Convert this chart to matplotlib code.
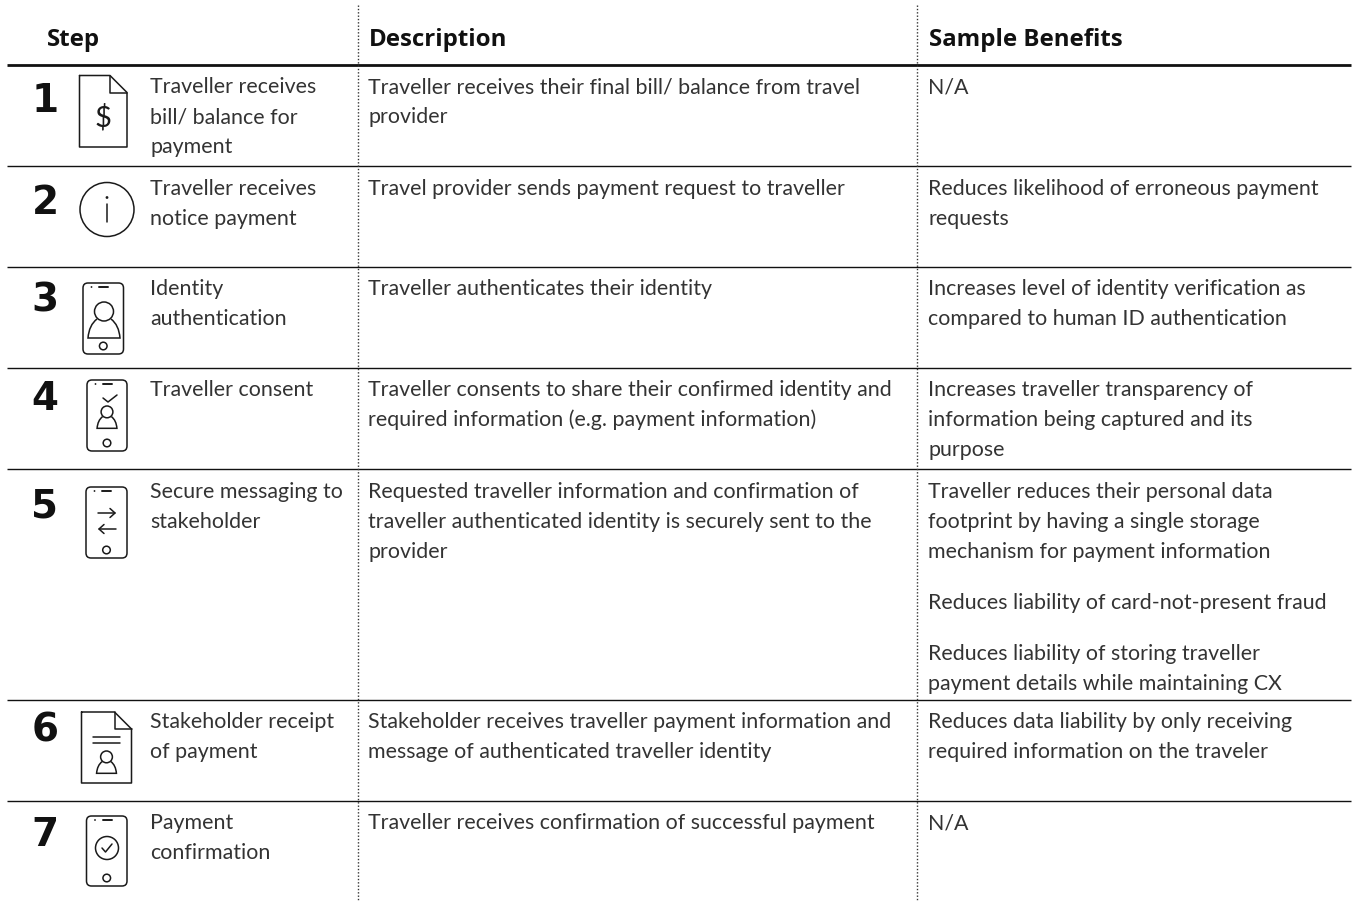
import matplotlib
matplotlib.use("Agg")
import matplotlib.pyplot as plt
from matplotlib.patches import Circle, FancyBboxPatch, PathPatch
from matplotlib.path import Path

W, H = 1356, 902
headers = ["Step", "Description", "Sample Benefits"]
numbers = ["1", "2", "3", "4", "5", "6", "7"]
steps = [["Traveller receives", "bill/ balance for", "payment"],
         ["Traveller receives", "notice payment"],
         ["Identity", "authentication"],
         ["Traveller consent"],
         ["Secure messaging to", "stakeholder"],
         ["Stakeholder receipt", "of payment"],
         ["Payment", "confirmation"]]
descriptions = [["Traveller receives their final bill/ balance from travel", "provider"],
                ["Travel provider sends payment request to traveller"],
                ["Traveller authenticates their identity"],
                ["Traveller consents to share their confirmed identity and", "required information (e.g. payment information)"],
                ["Requested traveller information and confirmation of", "traveller authenticated identity is securely sent to the", "provider"],
                ["Stakeholder receives traveller payment information and", "message of authenticated traveller identity"],
                ["Traveller receives confirmation of successful payment"]]
benefits = [[["N/A"]],
            [["Reduces likelihood of erroneous payment", "requests"]],
            [["Increases level of identity verification as", "compared to human ID authentication"]],
            [["Increases traveller transparency of", "information being captured and its", "purpose"]],
            [["Traveller reduces their personal data", "footprint by having a single storage", "mechanism for payment information"],
             ["Reduces liability of card-not-present fraud"],
             ["Reduces liability of storing traveller", "payment details while maintaining CX"]],
            [["Reduces data liability by only receiving", "required information on the traveler"]],
            [["N/A"]]]
row_lines = [165.5, 266.5, 368, 469, 700, 801]
baselines = [93, 195, 295, 396, 498, 728, 829]
number_baselines = [112, 214, 312, 410, 517, 742, 846]

fig = plt.figure(figsize=(W / 100, H / 100), dpi=100)
ax = fig.add_axes([0, 0, 1, 1])
ax.set_xlim(0, W); ax.set_ylim(H, 0); ax.axis("off")
INK = "#1a1a1a"
TXT = dict(family="Lato", weight="regular", fontsize=15.4, color="#333333", va="baseline", ha="left")
BOLD = dict(family="Open Sans", weight="bold", color="#111111", va="baseline")
LW = 1.1


def line(xs, ys, lw=LW):
    ax.plot(xs, ys, color=INK, lw=lw, solid_capstyle="round", solid_joinstyle="round")


def doc(x0, y0, x1, y1, fold):
    line([x0, x1 - fold, x1, x1, x0, x0], [y0, y0, y0 + fold, y1, y1, y0])
    line([x1 - fold, x1 - fold, x1], [y0, y0 + fold, y0 + fold])


def phone(x0, y0, x1, y1):
    ax.add_patch(FancyBboxPatch((x0 + 5, y0 + 5), x1 - x0 - 10, y1 - y0 - 10,
                                boxstyle="round,pad=5,rounding_size=5", fc="none", ec=INK, lw=LW))
    ax.add_patch(Circle((x0 + 8.5, y0 + 4), 0.9, fc=INK, ec="none"))
    line([x0 + 16, x0 + 25], [y0 + 4, y0 + 4], lw=1.4)
    ax.add_patch(Circle(((x0 + x1) / 2, y1 - 8), 3.8, fc="none", ec=INK, lw=LW))


def person(cx, top, s):
    ax.add_patch(Circle((cx, top + 9.5 * s), 9.5 * s, fc="none", ec=INK, lw=LW))
    verts = [(cx - 7 * s, top + 17 * s), (cx - 15 * s, top + 23 * s), (cx - 16 * s, top + 36 * s),
             (cx + 16 * s, top + 36 * s), (cx + 15 * s, top + 23 * s), (cx + 7 * s, top + 17 * s)]
    codes = [Path.MOVETO, Path.CURVE3, Path.CURVE3, Path.LINETO, Path.CURVE3, Path.CURVE3]
    ax.add_patch(PathPatch(Path(verts, codes), fc="none", ec=INK, lw=LW))


def arrow(x0, x1, y):
    d = 5 if x1 > x0 else -5
    line([x0, x1], [y, y]); line([x1 - d, x1, x1 - d], [y - 4.5, y, y + 4.5])


# rules
ax.plot([7, 1351], [65, 65], color="#111111", lw=2.0, solid_capstyle="butt")
for y in row_lines:
    ax.plot([7, 1351], [y, y], color="#111111", lw=1.0, solid_capstyle="butt")
for x in (358, 917):
    ax.plot([x, x], [5, H], color="#333333", lw=1.0, ls=(0, (1, 1.4)))

# header
for x, t in zip((47, 369, 929), headers):
    ax.text(x, 46, t, fontsize=17.3, **BOLD)

# rows
for i, base in enumerate(baselines):
    ax.text(45, number_baselines[i], numbers[i], family="Liberation Sans Narrow", weight="bold",
            fontsize=28, ha="center", va="baseline", color="#111111")
    for k, t in enumerate(steps[i]):
        ax.text(150, base + 30 * k, t, **TXT)
    for k, t in enumerate(descriptions[i]):
        ax.text(368, base + 30 * k, t, **TXT)
    y = base
    for para in benefits[i]:
        for t in para:
            ax.text(928, y, t, **TXT)
            y += 30
        y += 21

# icons
doc(79.5, 75.5, 127, 147, 17)
ax.text(103, 127, "$", family="Lato", fontsize=21, ha="center", va="baseline", color=INK)
ax.add_patch(Circle((107, 209.5), 27, fc="none", ec=INK, lw=LW))
ax.add_patch(Circle((107, 197.5), 1.4, fc=INK, ec="none"))
line([107, 107], [204, 222])
phone(83, 283, 123.5, 354)
person(104, 302, 1.0)
phone(87, 380, 127, 451)
line([103, 108, 117], [398, 402, 395])
person(107, 406, 0.62)
phone(86, 487, 127, 558)
arrow(98, 115, 513); arrow(116, 99, 529)
doc(81.5, 712, 131.5, 783, 17)
line([93, 120], [737, 737]); line([93, 120], [743, 743])
person(106.5, 751, 0.62)
phone(86.5, 816, 127, 886)
ax.add_patch(Circle((107, 848), 11.5, fc="none", ec=INK, lw=LW))
line([102, 105.5, 112], [848, 852, 844])

fig.savefig("out.png", dpi=100, facecolor="white")
